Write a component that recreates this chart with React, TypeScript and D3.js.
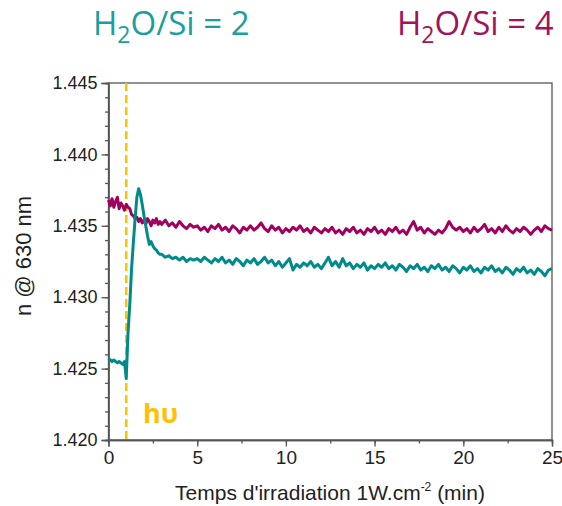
import React, { useEffect, useRef } from "react";
import * as d3 from "d3";

const tEarly: number[] = d3.range(0, 30).map((i) => i / 10);
const tLate: number[] = d3.range(0, 111).map((i) => 3 + i * 0.2);
const times: number[] = [...tEarly, ...tLate];

const tealValues: number[] = [
  1.4257, 1.4256, 1.4255, 1.4256, 1.4255, 1.4254, 1.4255, 1.4254, 1.4253, 1.4255,
  1.4243, 1.4275, 1.4295, 1.4320, 1.4338, 1.4355, 1.4370, 1.4376, 1.4372, 1.4365,
  1.4357, 1.4350, 1.4343, 1.4337, 1.4339, 1.4336, 1.4334, 1.4333, 1.4331, 1.4330,
  1.4330, 1.4328, 1.4329, 1.4327, 1.4328, 1.4326, 1.4328, 1.4325, 1.4327, 1.4326,
  1.4327, 1.4325, 1.4328, 1.4326, 1.4324, 1.4327, 1.4325, 1.4328, 1.4324, 1.4326,
  1.4323, 1.4327, 1.4325, 1.4322, 1.4326, 1.4324, 1.4327, 1.4323, 1.4325, 1.4328,
  1.4324, 1.4326, 1.4322, 1.4325, 1.4321, 1.4324, 1.4327, 1.4319, 1.4323, 1.4321,
  1.4324, 1.4322, 1.4325, 1.4321, 1.4323, 1.4320, 1.4324, 1.4328, 1.4322, 1.4325,
  1.4321, 1.4327, 1.4322, 1.4324, 1.4320, 1.4323, 1.4321, 1.4324, 1.4319, 1.4322,
  1.4320, 1.4323, 1.4321, 1.4324, 1.4320, 1.4322, 1.4319, 1.4323, 1.4321, 1.4318,
  1.4322, 1.4320, 1.4323, 1.4319, 1.4321, 1.4318, 1.4322, 1.4320, 1.4323, 1.4319,
  1.4321, 1.4318, 1.4322, 1.4320, 1.4317, 1.4321, 1.4319, 1.4322, 1.4318, 1.4320,
  1.4317, 1.4321, 1.4319, 1.4322, 1.4318, 1.4320, 1.4317, 1.4321, 1.4319, 1.4316,
  1.4320, 1.4318, 1.4321, 1.4317, 1.4319, 1.4316, 1.4320, 1.4318, 1.4315, 1.4319,
  1.4320,
];

const magentaValues: number[] = [
  1.4368, 1.4364, 1.4369, 1.4363, 1.4367, 1.4370, 1.4362, 1.4366, 1.4364, 1.4361,
  1.4365, 1.4363, 1.4362, 1.4358, 1.4357, 1.4355, 1.4356, 1.4353, 1.4355, 1.4352,
  1.4354, 1.4351, 1.4355, 1.4353, 1.4350, 1.4354, 1.4352, 1.4355, 1.4351, 1.4353,
  1.4351, 1.4354, 1.4350, 1.4352, 1.4349, 1.4353, 1.4350, 1.4348, 1.4351, 1.4349,
  1.4350, 1.4347, 1.4349, 1.4346, 1.4350, 1.4348, 1.4351, 1.4347, 1.4349, 1.4346,
  1.4350, 1.4348, 1.4345, 1.4349, 1.4347, 1.4350, 1.4347, 1.4349, 1.4352, 1.4348,
  1.4346, 1.4350, 1.4347, 1.4349, 1.4345, 1.4348, 1.4346, 1.4349, 1.4347, 1.4350,
  1.4346, 1.4348, 1.4345, 1.4349, 1.4347, 1.4345, 1.4348, 1.4346, 1.4349, 1.4345,
  1.4347, 1.4344, 1.4348, 1.4346, 1.4349, 1.4345, 1.4347, 1.4344, 1.4348, 1.4346,
  1.4349, 1.4345, 1.4347, 1.4344, 1.4348, 1.4346, 1.4349, 1.4345, 1.4347, 1.4344,
  1.4349, 1.4353, 1.4347, 1.4349, 1.4345, 1.4348, 1.4346, 1.4344, 1.4347, 1.4345,
  1.4348, 1.4353, 1.4349, 1.4347, 1.4349, 1.4346, 1.4348, 1.4345, 1.4349, 1.4346,
  1.4348, 1.4351, 1.4346, 1.4348, 1.4345, 1.4349, 1.4346, 1.4350, 1.4347, 1.4345,
  1.4348, 1.4346, 1.4349, 1.4347, 1.4344, 1.4347, 1.4349, 1.4346, 1.4350, 1.4348,
  1.4347,
];

const xTicks: number[] = [0, 5, 10, 15, 20, 25];
const yTicks: number[] = [1.42, 1.425, 1.43, 1.435, 1.44, 1.445];
const irradiationTime: number[] = [1];

const W = 562;
const H = 506;
const M = { left: 108.5, right: 552, top: 83, bottom: 440 };
const TEAL = "#008B8B";
const TEAL_T = "#1A9E9E";
const MAG = "#A0005E";
const MAG_T = "#A0145A";
const GOLD = "#FFC000";
const SANS = "Liberation Sans, Arial, sans-serif";

export default function App() {
  const ref = useRef<SVGGElement>(null);

  useEffect(() => {
    const g = d3.select(ref.current);
    g.selectAll("*").remove();
    const x = d3.scaleLinear().domain([0, 25]).range([M.left, M.right]);
    const y = d3.scaleLinear().domain([1.42, 1.445]).range([M.bottom, M.top]);

    g.append("rect")
      .attr("x", M.left).attr("y", M.top)
      .attr("width", M.right - M.left).attr("height", M.bottom - M.top)
      .attr("fill", "none").attr("stroke", "#555").attr("stroke-width", 1.3);

    const xa = g.append("g").attr("transform", `translate(0,${M.bottom})`);
    xa.call(d3.axisBottom(x).tickValues(d3.range(0, 25.01, 2.5)).tickSize(3.5).tickFormat(() => ""));
    const xb = g.append("g").attr("transform", `translate(0,${M.bottom})`);
    xb.call(d3.axisBottom(x).tickValues(xTicks).tickSize(6.5).tickPadding(4).tickFormat(d3.format("d")));
    [xa, xb].forEach((a) => {
      a.select(".domain").attr("stroke", "#555").attr("stroke-width", 1.3);
      a.selectAll("line").attr("stroke", "#555").attr("stroke-width", 1.3);
    });
    xb.selectAll("text").attr("font-family", SANS).attr("font-size", 19).attr("fill", "#222");

    const ya = g.append("g").attr("transform", `translate(${M.left},0)`);
    ya.call(d3.axisLeft(y).tickValues(d3.range(0, 26).map((i) => 1.42 + i * 0.001)).tickSize(3.5).tickFormat(() => ""));
    const yb = g.append("g").attr("transform", `translate(${M.left},0)`);
    yb.call(d3.axisLeft(y).tickValues(yTicks).tickSize(7).tickPadding(4).tickFormat(d3.format(".3f")));
    [ya, yb].forEach((a) => {
      a.select(".domain").attr("stroke", "#555").attr("stroke-width", 1.3);
      a.selectAll("line").attr("stroke", "#555").attr("stroke-width", 1.3);
    });
    yb.selectAll("text").attr("font-family", SANS).attr("font-size", 18).attr("fill", "#222");

    g.selectAll(".irr").data(irradiationTime).enter().append("line")
      .attr("x1", (d) => x(d)).attr("x2", (d) => x(d))
      .attr("y1", M.top).attr("y2", M.bottom)
      .attr("stroke", GOLD).attr("stroke-width", 2.5).attr("stroke-dasharray", "8,4");

    const line = d3.line<number>().x((_, i) => x(times[i])).y((d) => y(d));
    g.append("path").datum(magentaValues).attr("d", line)
      .attr("fill", "none").attr("stroke", MAG).attr("stroke-width", 3).attr("stroke-linejoin", "round");
    g.append("path").datum(tealValues).attr("d", line)
      .attr("fill", "none").attr("stroke", TEAL).attr("stroke-width", 3).attr("stroke-linejoin", "round");
  }, []);

  return (
    <div style={{ position: "absolute", left: 0, top: 0 }}>
      <svg width={W} height={H} style={{ display: "block" }}>
        <rect width={W} height={H} fill="#fff" />
        <text x={93} y={35} fontFamily="Open Sans, sans-serif" fontSize={33} fill={TEAL_T}>
          H<tspan fontSize={23} dy={8}>2</tspan><tspan dy={-8}>O/Si = 2</tspan>
        </text>
        <text x={397} y={35} fontFamily="Open Sans, sans-serif" fontSize={33} fill={MAG_T}>
          H<tspan fontSize={23} dy={8}>2</tspan><tspan dy={-8}>O/Si = 4</tspan>
        </text>
        <g ref={ref} />
        <text x={143} y={423} fontFamily="Open Sans, sans-serif" fontWeight="bold" fontSize={27} fill={GOLD}>hυ</text>
        <text x={330} y={500} textAnchor="middle" fontFamily={SANS} fontSize={21} fill="#222">
          Temps d'irradiation 1W.cm<tspan fontSize={12} dy={-9}>-2</tspan><tspan dy={9}> (min)</tspan>
        </text>
        <text transform="translate(31,256) rotate(-90)" textAnchor="middle" fontFamily={SANS} fontSize={22} fill="#222">
          n @ 630 nm
        </text>
      </svg>
    </div>
  );
}
